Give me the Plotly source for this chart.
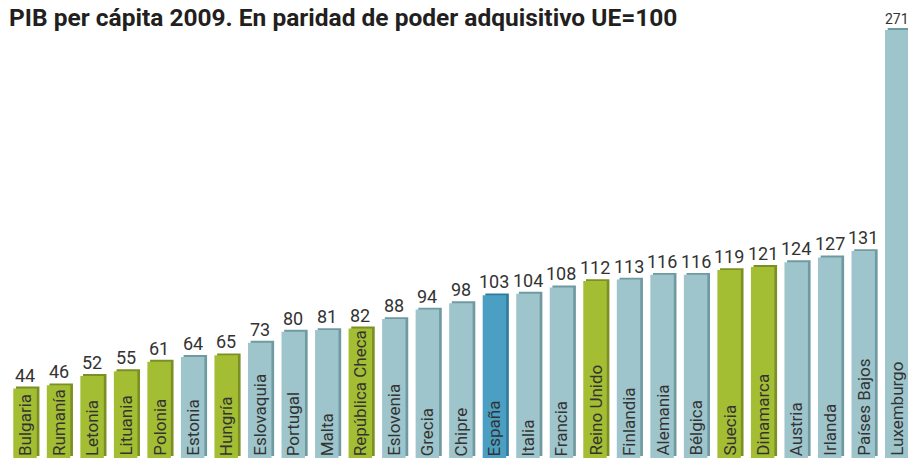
import plotly.graph_objects as go

countries = ["Bulgaria", "Rumanía", "Letonia", "Lituania", "Polonia", "Estonia", "Hungría",
             "Eslovaquia", "Portugal", "Malta", "República Checa", "Eslovenia", "Grecia", "Chipre",
             "España", "Italia", "Francia", "Reino Unido", "Finlandia", "Alemania", "Bélgica",
             "Suecia", "Dinamarca", "Austria", "Irlanda", "Países Bajos", "Luxemburgo"]
values = [44, 46, 52, 55, 61, 64, 65, 73, 80, 81, 82, 88, 94, 98, 103, 104, 108, 112, 113,
          116, 116, 119, 121, 124, 127, 131, 271]
groups = ["no_euro", "no_euro", "no_euro", "no_euro", "no_euro", "euro", "no_euro",
          "euro", "euro", "euro", "no_euro", "euro", "euro", "euro",
          "spain", "euro", "euro", "no_euro", "euro", "euro", "euro",
          "no_euro", "no_euro", "euro", "euro", "euro", "euro"]
title = "PIB per cápita 2009. En paridad de poder adquisitivo UE=100"

face = {"no_euro": "#a4be34", "euro": "#9ec5cb", "spain": "#4b9fc3"}
edge = {"no_euro": "#7b8f24", "euro": "#6f9aa1", "spain": "#2f7b9b"}

FONT = "Roboto, Liberation Sans, sans-serif"

fig = go.Figure()
# 3D edge (behind)
fig.add_trace(go.Bar(
    x=countries, y=values, base=1.2,
    width=0.7, offset=-0.35 + 0.08,
    marker=dict(color=[edge[g] for g in groups], line=dict(width=0)),
    hoverinfo="skip", showlegend=False,
))
# Face
fig.add_trace(go.Bar(
    x=countries, y=values,
    width=0.7, offset=-0.35,
    marker=dict(color=[face[g] for g in groups], line=dict(width=0)),
    showlegend=False,
))

annotations = [dict(
    text="<b>" + title + "</b>", xref="paper", yref="paper",
    x=0.008, y=1.0, xanchor="left", yanchor="top", yshift=-1,
    showarrow=False, font=dict(family=FONT, size=24.5, color="#231f20"),
)]
last = len(values) - 1
for i, (c, v) in enumerate(zip(countries, values)):
    # value above the bar
    annotations.append(dict(
        x=c, y=v, xref="x", yref="y", text=str(v), showarrow=False,
        xanchor="center", yanchor="bottom", yshift=1,
        font=dict(family=FONT, size=18 if i < last else 14, color="#333333"),
    ))
    # country name inside the bar, reading upwards
    annotations.append(dict(
        x=c, y=0, xref="x", yref="y", text=c, showarrow=False, textangle=-90,
        xanchor="center", yanchor="bottom",
        font=dict(family=FONT, size=17, color="#333333"),
    ))

fig.update_layout(
    width=908, height=458,
    margin=dict(l=0, r=0, t=0, b=0),
    paper_bgcolor="white", plot_bgcolor="white",
    barmode="overlay",
    xaxis=dict(range=[-0.746, 26.335], visible=False),
    yaxis=dict(range=[0, 290], visible=False),
    annotations=annotations,
)

fig.write_html(
    "out.html",
    config={"displayModeBar": False},
    post_script="document.body.style.margin='0';document.body.style.overflow='hidden';"
                "document.documentElement.style.overflow='hidden';",
)
